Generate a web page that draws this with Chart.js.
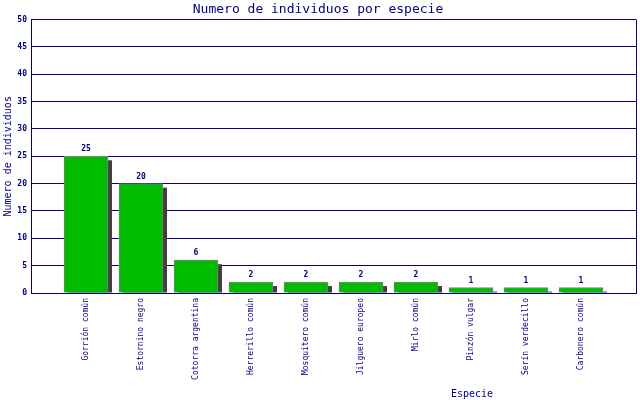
<!DOCTYPE html>
<html>
<head>
<meta charset="utf-8">
<script src="https://cdn.jsdelivr.net/npm/chart.js@4/dist/chart.umd.min.js"></script>
<style>
  html, body { margin: 0; padding: 0; background: #fff; }
  #wrap { width: 640px; height: 400px; }
</style>
</head>
<body>
<div id="wrap"><canvas id="birdChart"></canvas></div>
<script>
// Datos del gráfico
const especies = ['Gorrión común', 'Estornino negro', 'Cotorra argentina', 'Herrerillo común',
    'Mosquitero común', 'Jilguero europeo', 'Mirlo común', 'Pinzón vulgar', 'Serín verdecillo', 'Carbonero común'];
const individuos = [25, 20, 6, 2, 2, 2, 2, 1, 1, 1];
const yTicks = [0, 5, 10, 15, 20, 25, 30, 35, 40, 45, 50];

const azul = '#000080';
const mono = '"DejaVu Sans Mono", "Liberation Mono", monospace';

// Sombra de las barras y valores encima
const barExtras = {
    id: 'barExtras',
    beforeDatasetsDraw(chart) {
        const ctx = chart.ctx;
        const area = chart.chartArea;
        ctx.save();
        ctx.beginPath();
        ctx.rect(area.left, area.top, area.right - area.left, area.bottom - area.top);
        ctx.clip();
        ctx.fillStyle = '#404040';
        chart.getDatasetMeta(0).data.forEach(bar => {
            const p = bar.getProps(['x', 'y', 'base', 'width'], true);
            ctx.fillRect(p.x - p.width / 2 + 4, p.y + 4, p.width, p.base - p.y - 4);
        });
        ctx.restore();
    },
    afterDatasetsDraw(chart) {
        const ctx = chart.ctx;
        ctx.save();
        ctx.fillStyle = azul;
        ctx.font = 'bold 8px ' + mono;
        ctx.textAlign = 'center';
        ctx.textBaseline = 'bottom';
        chart.getDatasetMeta(0).data.forEach((bar, i) => {
            const p = bar.getProps(['x', 'y'], true);
            ctx.fillText(String(individuos[i]), p.x, p.y - 3);
        });
        // titulo del eje X
        ctx.font = '10px ' + mono;
        ctx.textBaseline = 'middle';
        ctx.fillText('Especie', 472, 394);
        ctx.restore();
    }
};

const createBirdChart = () => {
    const ctx = document.getElementById('birdChart').getContext('2d');
    new Chart(ctx, {
        type: 'bar',
        data: {
            datasets: [{
                label: 'Numero de individuos',
                data: individuos.map((v, i) => ({ x: i, y: v })),
                backgroundColor: '#00bb00',
                borderColor: '#808080',
                borderWidth: 1,
                borderSkipped: 'bottom',
                barThickness: 44
            }]
        },
        plugins: [barExtras],
        options: {
            responsive: true,
            maintainAspectRatio: false,
            animation: false,
            layout: { padding: { left: 0, right: 4, top: 0, bottom: 0 } },
            plugins: {
                legend: { display: false },
                tooltip: { enabled: false },
                title: {
                    display: true,
                    text: 'Numero de individuos por especie',
                    color: azul,
                    font: { family: mono, size: 13, weight: 'normal' },
                    padding: { top: 2, bottom: 2 }
                }
            },
            scales: {
                x: {
                    type: 'linear',
                    offset: false,
                    min: -1,
                    max: 10,
                    afterBuildTicks: s => { s.ticks = [-1, ...especies.map((e, i) => i), 10].map(v => ({ value: v })); },
                    afterFit: s => { s.height = 107; s.paddingLeft = 0; s.paddingRight = 0; },
                    ticks: {
                        autoSkip: false,
                        minRotation: 90,
                        maxRotation: 90,
                        padding: 5,
                        color: azul,
                        font: { family: mono, size: 8 },
                        callback: v => especies[v] || ''
                    },
                    grid: {
                        offset: false,
                        drawTicks: false,
                        color: c => (c.tick && c.tick.value === 10) ? azul : 'rgba(0,0,0,0)'
                    },
                    border: { display: true, color: azul, width: 1 }
                },
                y: {
                    min: 0,
                    max: 50,
                    afterBuildTicks: s => { s.ticks = yTicks.map(v => ({ value: v })); },
                    afterFit: s => { s.width = 31; },
                    ticks: {
                        padding: 4,
                        color: azul,
                        font: { family: mono, size: 8, weight: 'bold' }
                    },
                    grid: { color: azul, drawTicks: false },
                    border: { display: true, color: azul, width: 1 },
                    title: {
                        display: true,
                        text: 'Numero de individuos',
                        color: azul,
                        font: { family: mono, size: 10 },
                        padding: { top: 2, bottom: 0 }
                    }
                }
            }
        }
    });
};

document.addEventListener('DOMContentLoaded', createBirdChart);
</script>
</body>
</html>
